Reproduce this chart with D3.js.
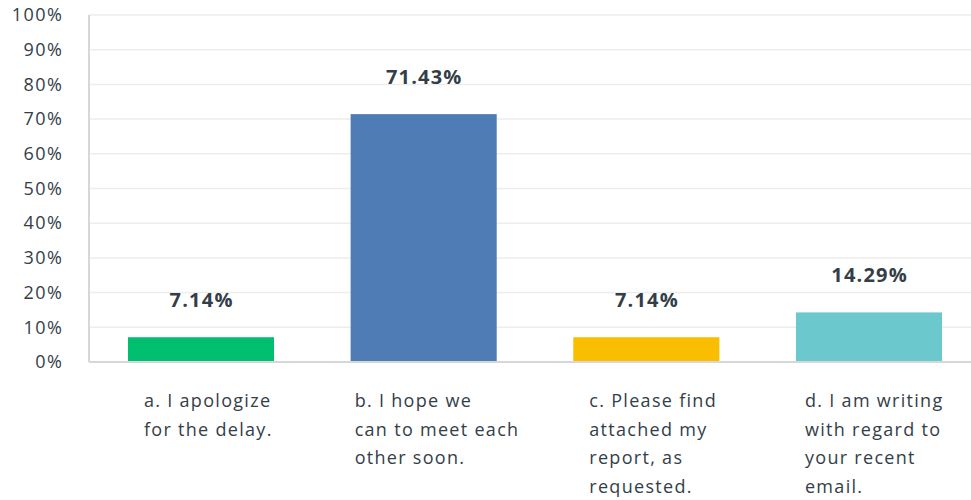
<!DOCTYPE html>
<html>
<head>
<meta charset="utf-8">
<script src="https://cdn.jsdelivr.net/npm/d3@7"></script>
<style>
  html, body { margin: 0; padding: 0; background: #fff; }
  svg { display: block; }
  text { font-family: "Open Sans", "Noto Sans", sans-serif; fill: #333e48; }
</style>
</head>
<body>
<svg id="chart" width="971" height="500"></svg>
<script>
// ---- data ----
const categories = [
  "a. I apologize for the delay.",
  "b. I hope we can to meet each other soon.",
  "c. Please find attached my report, as requested.",
  "d. I am writing with regard to your recent email."
];
const categoryLines = [
  ["a. I apologize", "for the delay."],
  ["b. I hope we", "can to meet each", "other soon."],
  ["c. Please find", "attached my", "report, as", "requested."],
  ["d. I am writing", "with regard to", "your recent", "email."]
];
const values = [7.14, 71.43, 7.14, 14.29];
const valueLabels = ["7.14%", "71.43%", "7.14%", "14.29%"];
const barColors = ["#00bf6f", "#507cb6", "#f9be00", "#6bc8cd"];
const yTicks = [0, 10, 20, 30, 40, 50, 60, 70, 80, 90, 100];

// ---- layout ----
const svg = d3.select("#chart");
const x0 = 89, x1 = 981, yTop = 15, yBottom = 362;
const labelOffsets = [16, 4, 16, 9];

const x = d3.scaleBand().domain(categories).range([x0, x1])
  .paddingInner(0.344).paddingOuter(0.175);
const y = d3.scaleLinear().domain([0, 100]).range([yBottom, yTop]);

// gridlines
svg.append("g").selectAll("line").data(yTicks.filter(t => t > 0)).join("line")
  .attr("x1", x0).attr("x2", x1)
  .attr("y1", d => y(d)).attr("y2", d => y(d))
  .attr("stroke", "#ededed").attr("stroke-width", 1.5);

// y axis
const yAxis = d3.axisLeft(y).tickValues(yTicks).tickFormat(d => d + "%").tickSize(0).tickPadding(25.5);
const ya = svg.append("g").attr("transform", `translate(${x0},0)`).call(yAxis);
ya.select(".domain").remove();
ya.selectAll("text").attr("font-size", 18).attr("fill", "#333e48")
  .attr("letter-spacing", 1.5)
  .style("font-family", '"Open Sans", sans-serif');

// bars
svg.append("g").selectAll("rect").data(values).join("rect")
  .attr("x", (d, i) => x(categories[i]))
  .attr("y", d => y(d))
  .attr("width", x.bandwidth())
  .attr("height", d => y(0) - y(d))
  .attr("fill", (d, i) => barColors[i]);

// axis lines
svg.append("line").attr("x1", x0).attr("x2", x0).attr("y1", yTop).attr("y2", yBottom)
  .attr("stroke", "#d6d7d8").attr("stroke-width", 2);
svg.append("line").attr("x1", x0).attr("x2", x1).attr("y1", yBottom).attr("y2", yBottom)
  .attr("stroke", "#d6d7d8").attr("stroke-width", 2);

// value labels
svg.append("g").selectAll("text").data(values).join("text")
  .attr("x", (d, i) => x(categories[i]) + x.bandwidth() / 2 + 0.6)
  .attr("y", d => y(d) - 30)
  .attr("text-anchor", "middle")
  .attr("font-size", 20).attr("font-weight", 700)
  .attr("letter-spacing", 1.2)
  .text((d, i) => valueLabels[i]);

// category labels
const cg = svg.append("g").selectAll("text").data(categories).join("text")
  .attr("font-size", 18)
  .attr("letter-spacing", 1.3)
  .attr("x", (d, i) => x(d) + labelOffsets[i])
  .attr("y", 407);
cg.each(function(d, i) {
  d3.select(this).selectAll("tspan").data(categoryLines[i]).join("tspan")
    .attr("x", x(d) + labelOffsets[i])
    .attr("dy", (l, j) => j === 0 ? 0 : 28.5)
    .text(l => l);
});
</script>
</body>
</html>
